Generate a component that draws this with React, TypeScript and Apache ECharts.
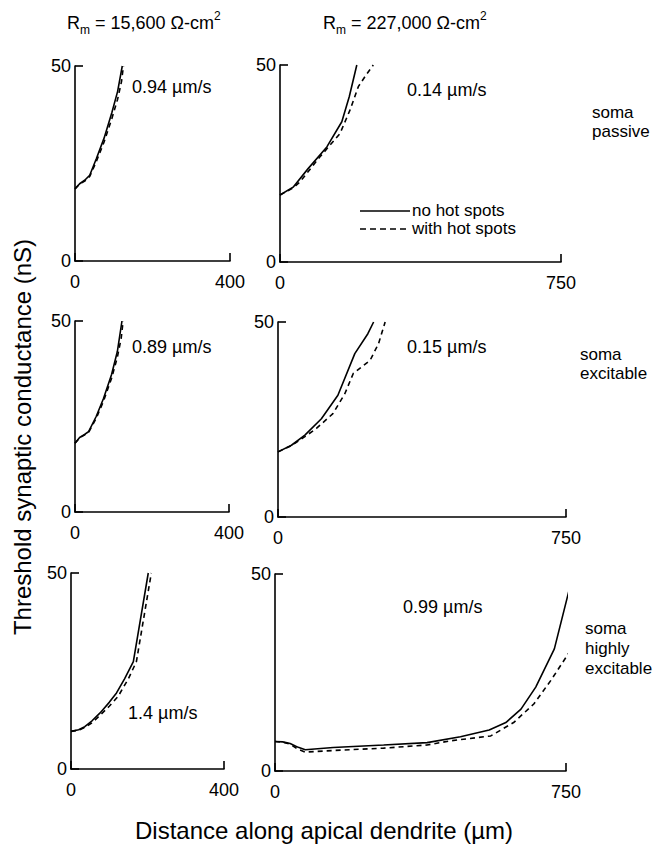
import React, { useEffect, useRef } from "react";
import * as echarts from "echarts";

const FONT = "'Liberation Sans', Arial, Helvetica, sans-serif";

// x-axis maxima and tick labels
const xMaxLeft = 400;
const xMaxRight = 750;
const yTicks = [0, 50];

// Panel data: [distance (µm), threshold conductance (nS)]
const p1Solid = [[0, 18.5], [12, 19.8], [25, 20.7], [38, 22], [55, 26.2], [75, 31.5], [95, 38], [110, 43.5], [122, 50]];
const p1Dashed = [[0, 18.5], [12, 19.7], [25, 20.5], [38, 21.7], [55, 25.5], [75, 30.5], [95, 36.5], [110, 41.5], [120, 46], [125, 50]];

const p2Solid = [[0, 17], [35, 19], [75, 23.7], [125, 29.2], [165, 35.6], [185, 42], [205, 50]];
const p2Dashed = [[0, 17], [35, 18.8], [53, 20.3], [105, 26.5], [160, 32.6], [187, 38.6], [209, 44.5], [230, 47.5], [249, 50]];

const p3Solid = [[0, 18], [12, 19.5], [25, 20.3], [35, 21], [55, 25], [74, 29.7], [95, 36], [110, 42], [122, 50]];
const p3Dashed = [[0, 18], [12, 19.4], [25, 20.2], [35, 20.8], [55, 24.5], [74, 29], [95, 35], [110, 40.5], [120, 45.5], [125, 50]];

const p4Solid = [[0, 16.7], [35, 18.4], [70, 21], [113, 25.2], [156, 31.2], [200, 41.9], [234, 47], [249, 50]];
const p4Dashed = [[0, 16.7], [35, 18.3], [70, 20.6], [100, 22.7], [143, 26.5], [174, 31.6], [196, 36.8], [240, 40.2], [262, 44.5], [279, 50]];

const p5Solid = [[0, 9.6], [20, 10], [36, 10.8], [55, 12.3], [76, 14.3], [100, 17], [119, 19.4], [140, 23], [163, 27.4], [202, 50]];
const p5Dashed = [[0, 9.6], [20, 9.9], [36, 10.6], [55, 11.8], [76, 13.7], [100, 16], [123, 18.5], [150, 23], [171, 27.4], [210, 50]];

const p6Solid = [[0, 7.5], [20, 7.4], [39, 7], [60, 6], [78, 5.4], [150, 5.95], [280, 6.6], [392, 7.2], [478, 8.7], [552, 10.4], [595, 12.3], [634, 15.7], [672, 21.3], [720, 31], [759, 46.3]];
const p6Dashed = [[0, 7.5], [20, 7.3], [39, 6.8], [60, 5.5], [78, 4.8], [150, 5.2], [280, 5.8], [392, 6.6], [452, 7.65], [556, 8.9], [615, 12.3], [667, 17], [711, 23], [759, 30.2]];

const seriesNames = ["no hot spots", "with hot spots"];
const rateLabels = ["0.94 µm/s", "0.14 µm/s", "0.89 µm/s", "0.15 µm/s", "1.4 µm/s", "0.99 µm/s"];
const conditionLabels = [["soma", "passive"], ["soma", "excitable"], ["soma", "highly", "excitable"]];

const panels = [
  { grid: { left: 75, top: 66, width: 155, height: 195 }, xMax: xMaxLeft, solid: p1Solid, dashed: p1Dashed, rate: rateLabels[0], rx: 132, ry: 87 },
  { grid: { left: 280, top: 65, width: 281, height: 197 }, xMax: xMaxRight, solid: p2Solid, dashed: p2Dashed, rate: rateLabels[1], rx: 407, ry: 90 },
  { grid: { left: 75, top: 321, width: 154, height: 191 }, xMax: xMaxLeft, solid: p3Solid, dashed: p3Dashed, rate: rateLabels[2], rx: 132, ry: 347 },
  { grid: { left: 278, top: 322, width: 288, height: 195 }, xMax: xMaxRight, solid: p4Solid, dashed: p4Dashed, rate: rateLabels[3], rx: 407, ry: 347 },
  { grid: { left: 71, top: 573, width: 153, height: 196 }, xMax: xMaxLeft, solid: p5Solid, dashed: p5Dashed, rate: rateLabels[4], rx: 128, ry: 713 },
  { grid: { left: 275, top: 574, width: 291, height: 197 }, xMax: xMaxRight, solid: p6Solid, dashed: p6Dashed, rate: rateLabels[5], rx: 403, ry: 607 },
];

const conditionPos = [
  { x: 592, y: 112, gap: 19 },
  { x: 580, y: 354, gap: 19 },
  { x: 585, y: 628, gap: 20 },
];

export default function App() {
  const ref = useRef<HTMLDivElement>(null);

  useEffect(() => {
    if (!ref.current) return;
    const chart = echarts.init(ref.current, null, { renderer: "svg" });

    const axisLine = { show: true, lineStyle: { color: "#000", width: 1.6 } };
    const grids = panels.map((p) => ({ ...p.grid, containLabel: false }));
    const xAxes = panels.map((p, i) => ({
      type: "value",
      gridIndex: i,
      min: 0,
      max: p.xMax,
      interval: p.xMax,
      axisLine,
      axisTick: { show: true, inside: true, length: 8, lineStyle: { color: "#000", width: 1.6 } },
      axisLabel: { fontSize: 18, color: "#000", fontFamily: FONT, margin: 12 },
      splitLine: { show: false },
    }));
    const yAxes = panels.map((p, i) => ({
      type: "value",
      gridIndex: i,
      min: yTicks[0],
      max: yTicks[1],
      interval: yTicks[1] - yTicks[0],
      axisLine,
      axisTick: { show: true, inside: true, length: 8, lineStyle: { color: "#000", width: 1.6 } },
      axisLabel: { fontSize: 18, color: "#000", fontFamily: FONT, margin: 4 },
      splitLine: { show: false },
    }));
    const series: any[] = [];
    panels.forEach((p, i) => {
      series.push({
        type: "line", name: seriesNames[0], xAxisIndex: i, yAxisIndex: i, data: p.solid,
        symbol: "none", clip: false, lineStyle: { color: "#000", width: 1.6, type: "solid" },
        itemStyle: { color: "#000" },
      });
      series.push({
        type: "line", name: seriesNames[1], xAxisIndex: i, yAxisIndex: i, data: p.dashed,
        symbol: "none", clip: false, lineStyle: { color: "#000", width: 1.6, type: [5, 4] },
        itemStyle: { color: "#000" },
      });
    });

    const txt = (x: number, y: number, text: string, extra: any = {}) => ({
      type: "text", x, y,
      style: { text, fontSize: 18, fontFamily: FONT, fill: "#000", textVerticalAlign: "middle", ...extra },
    });

    const graphics: any[] = [];
    panels.forEach((p) => graphics.push(txt(p.rx, p.ry, p.rate)));
    conditionLabels.forEach((lines, i) => {
      const c = conditionPos[i];
      lines.forEach((l, j) => graphics.push(txt(c.x, c.y + j * c.gap, l, { fontSize: 17 })));
    });

    // legend drawn as graphic (line samples + labels)
    graphics.push({ type: "line", shape: { x1: 360, y1: 211, x2: 410, y2: 211 }, style: { stroke: "#000", lineWidth: 1.6 } });
    graphics.push({ type: "line", shape: { x1: 360, y1: 229, x2: 410, y2: 229 }, style: { stroke: "#000", lineWidth: 1.6, lineDash: [6, 4] } });
    graphics.push(txt(412, 210, seriesNames[0], { fontSize: 17 }));
    graphics.push(txt(412, 228, seriesNames[1], { fontSize: 17 }));

    const rich = {
      b: { fontSize: 18, fontFamily: FONT, color: "#000", lineHeight: 26, verticalAlign: "middle" },
      sub: { fontSize: 12, fontFamily: FONT, color: "#000", lineHeight: 26, verticalAlign: "bottom" },
      sup: { fontSize: 12, fontFamily: FONT, color: "#000", lineHeight: 26, verticalAlign: "top" },
    };
    graphics.push({ type: "text", x: 67, y: 23, style: { text: "{b|R}{sub|m}{b| = 15,600 Ω-cm}{sup|2}", rich, textVerticalAlign: "middle" } });
    graphics.push({ type: "text", x: 323, y: 23, style: { text: "{b|R}{sub|m}{b| = 227,000 Ω-cm}{sup|2}", rich, textVerticalAlign: "middle" } });
    const yTitle = txt(22, 437, "Threshold synaptic conductance (nS)", { fontSize: 24, textAlign: "center" });
    (yTitle as any).rotation = Math.PI / 2;
    graphics.push(yTitle);
    graphics.push(txt(324, 830, "Distance along apical dendrite (µm)", { fontSize: 24, textAlign: "center" }));

    chart.setOption({
      animation: false,
      backgroundColor: "#fff",
      grid: grids,
      xAxis: xAxes,
      yAxis: yAxes,
      series,
      graphic: graphics,
    });

    return () => chart.dispose();
  }, []);

  return (
    <div
      ref={ref}
      style={{ position: "fixed", left: 0, top: 0, width: 658, height: 856, background: "#fff" }}
    />
  );
}
